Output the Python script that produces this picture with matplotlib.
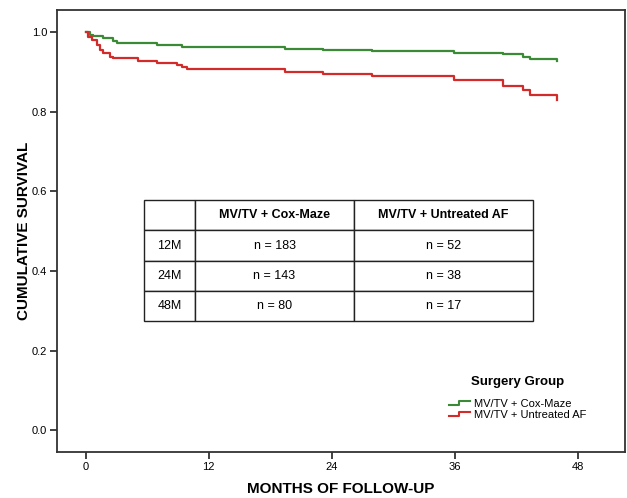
import matplotlib
matplotlib.use('Agg')
import matplotlib.pyplot as plt
from matplotlib.legend_handler import HandlerBase
from matplotlib.lines import Line2D

# Kaplan-Meier steps (months, cumulative survival)
maze_t = [0, 0.42, 0.71, 1.69, 2.66, 3.05, 5.1, 6.95, 8.9, 9.4, 9.9, 19.4, 23.1, 27.9, 35.9, 40.7, 42.6, 43.3, 46.0]
maze_s = [1.0, 0.9925, 0.990, 0.984, 0.978, 0.973, 0.971, 0.968, 0.966, 0.963, 0.962, 0.958, 0.9555, 0.9515, 0.948,
          0.944, 0.938, 0.932, 0.928]

untreated_t = [0, 0.22, 0.58, 1.07, 1.39, 1.69, 2.37, 2.66, 5.1, 6.95, 8.9, 9.4, 9.9, 19.4, 23.1, 27.9, 35.9, 40.7,
               42.6, 43.3, 46.0]
untreated_s = [1.0, 0.988, 0.980, 0.967, 0.955, 0.947, 0.938, 0.934, 0.928, 0.923, 0.917, 0.912, 0.907, 0.900, 0.894,
               0.888, 0.878, 0.865, 0.854, 0.841, 0.829]

group_names = ['MV/TV + Cox-Maze', 'MV/TV + Untreated AF']
row_labels = ['12M', '24M', '48M']
n_maze = [183, 143, 80]
n_untreated = [52, 38, 17]

x_ticks = [0, 12, 24, 36, 48]
y_ticks = [0.0, 0.2, 0.4, 0.6, 0.8, 1.0]

green = '#3b8a35'
red = '#d32a2a'
edge = '#333333'


class StepHandler(HandlerBase):
    """ little step icon like the SPSS legend """

    def create_artists(self, legend, orig_handle, xdescent, ydescent, width, height, fontsize, trans):
        lo = -ydescent + height * 0.2
        hi = -ydescent + height * 0.8
        xs = [0, width * 0.45, width * 0.45, width]
        ys = [lo, lo, hi, hi]
        line = Line2D(xs, ys, color=orig_handle.get_color(), lw=1.5, transform=trans)
        return [line]


fig = plt.figure(figsize=(6.27, 4.98), dpi=100)
ax = fig.add_axes([0.091, 0.092, 0.906, 0.888])

ln1, = ax.step(maze_t, maze_s, where='post', color=green, lw=1.6)
ln2, = ax.step(untreated_t, untreated_s, where='post', color=red, lw=1.6)

ax.set_xlim(-2.8, 52.6)
ax.set_ylim(-0.055, 1.055)
ax.set_xticks(x_ticks)
ax.set_xticklabels([str(v) for v in x_ticks])
ax.set_yticks(y_ticks)
ax.set_yticklabels(['{:.1f}'.format(v) for v in y_ticks])
ax.tick_params(direction='out', length=5, width=1.3, color=edge, labelsize=8, pad=2,
               labelfontfamily='Liberation Sans')
for side in ax.spines.values():
    side.set_linewidth(1.3)
    side.set_color(edge)

lab_font = dict(family='Liberation Sans', weight='bold', size=11)
ax.set_xlabel('MONTHS OF FOLLOW-UP', labelpad=7, **lab_font)
ax.set_ylabel('CUMULATIVE SURVIVAL', labelpad=1, **lab_font)

# numbers at risk table
cells = [[lab, 'n = {}'.format(a), 'n = {}'.format(b)] for lab, a, b in zip(row_labels, n_maze, n_untreated)]
tbl = ax.table(cellText=cells, colLabels=[''] + group_names, colWidths=[0.131, 0.409, 0.460],
               cellLoc='center', bbox=[0.153, 0.296, 0.685, 0.274])
tbl.auto_set_font_size(False)
for (r, c), cell in tbl.get_celld().items():
    cell.set_edgecolor('#222222')
    cell.set_linewidth(1.0)
    cell.get_text().set_fontfamily('Liberation Sans')
    cell.get_text().set_fontsize(9)
    if r == 0:
        cell.get_text().set_fontweight('bold')

leg = ax.legend([ln1, ln2], group_names, title='Surgery Group', loc='lower right',
                bbox_to_anchor=(0.95, 0.05), frameon=False, handler_map={Line2D: StepHandler()},
                handlelength=1.9, handleheight=0.6, handletextpad=0.35, labelspacing=0.1,
                prop={'family': 'Liberation Sans', 'size': 8})
leg.get_title().set_fontfamily('Liberation Sans')
leg.get_title().set_fontweight('bold')
leg.get_title().set_fontsize(9.5)
leg._legend_box.sep = 8

fig.savefig('out.png', dpi=100)
